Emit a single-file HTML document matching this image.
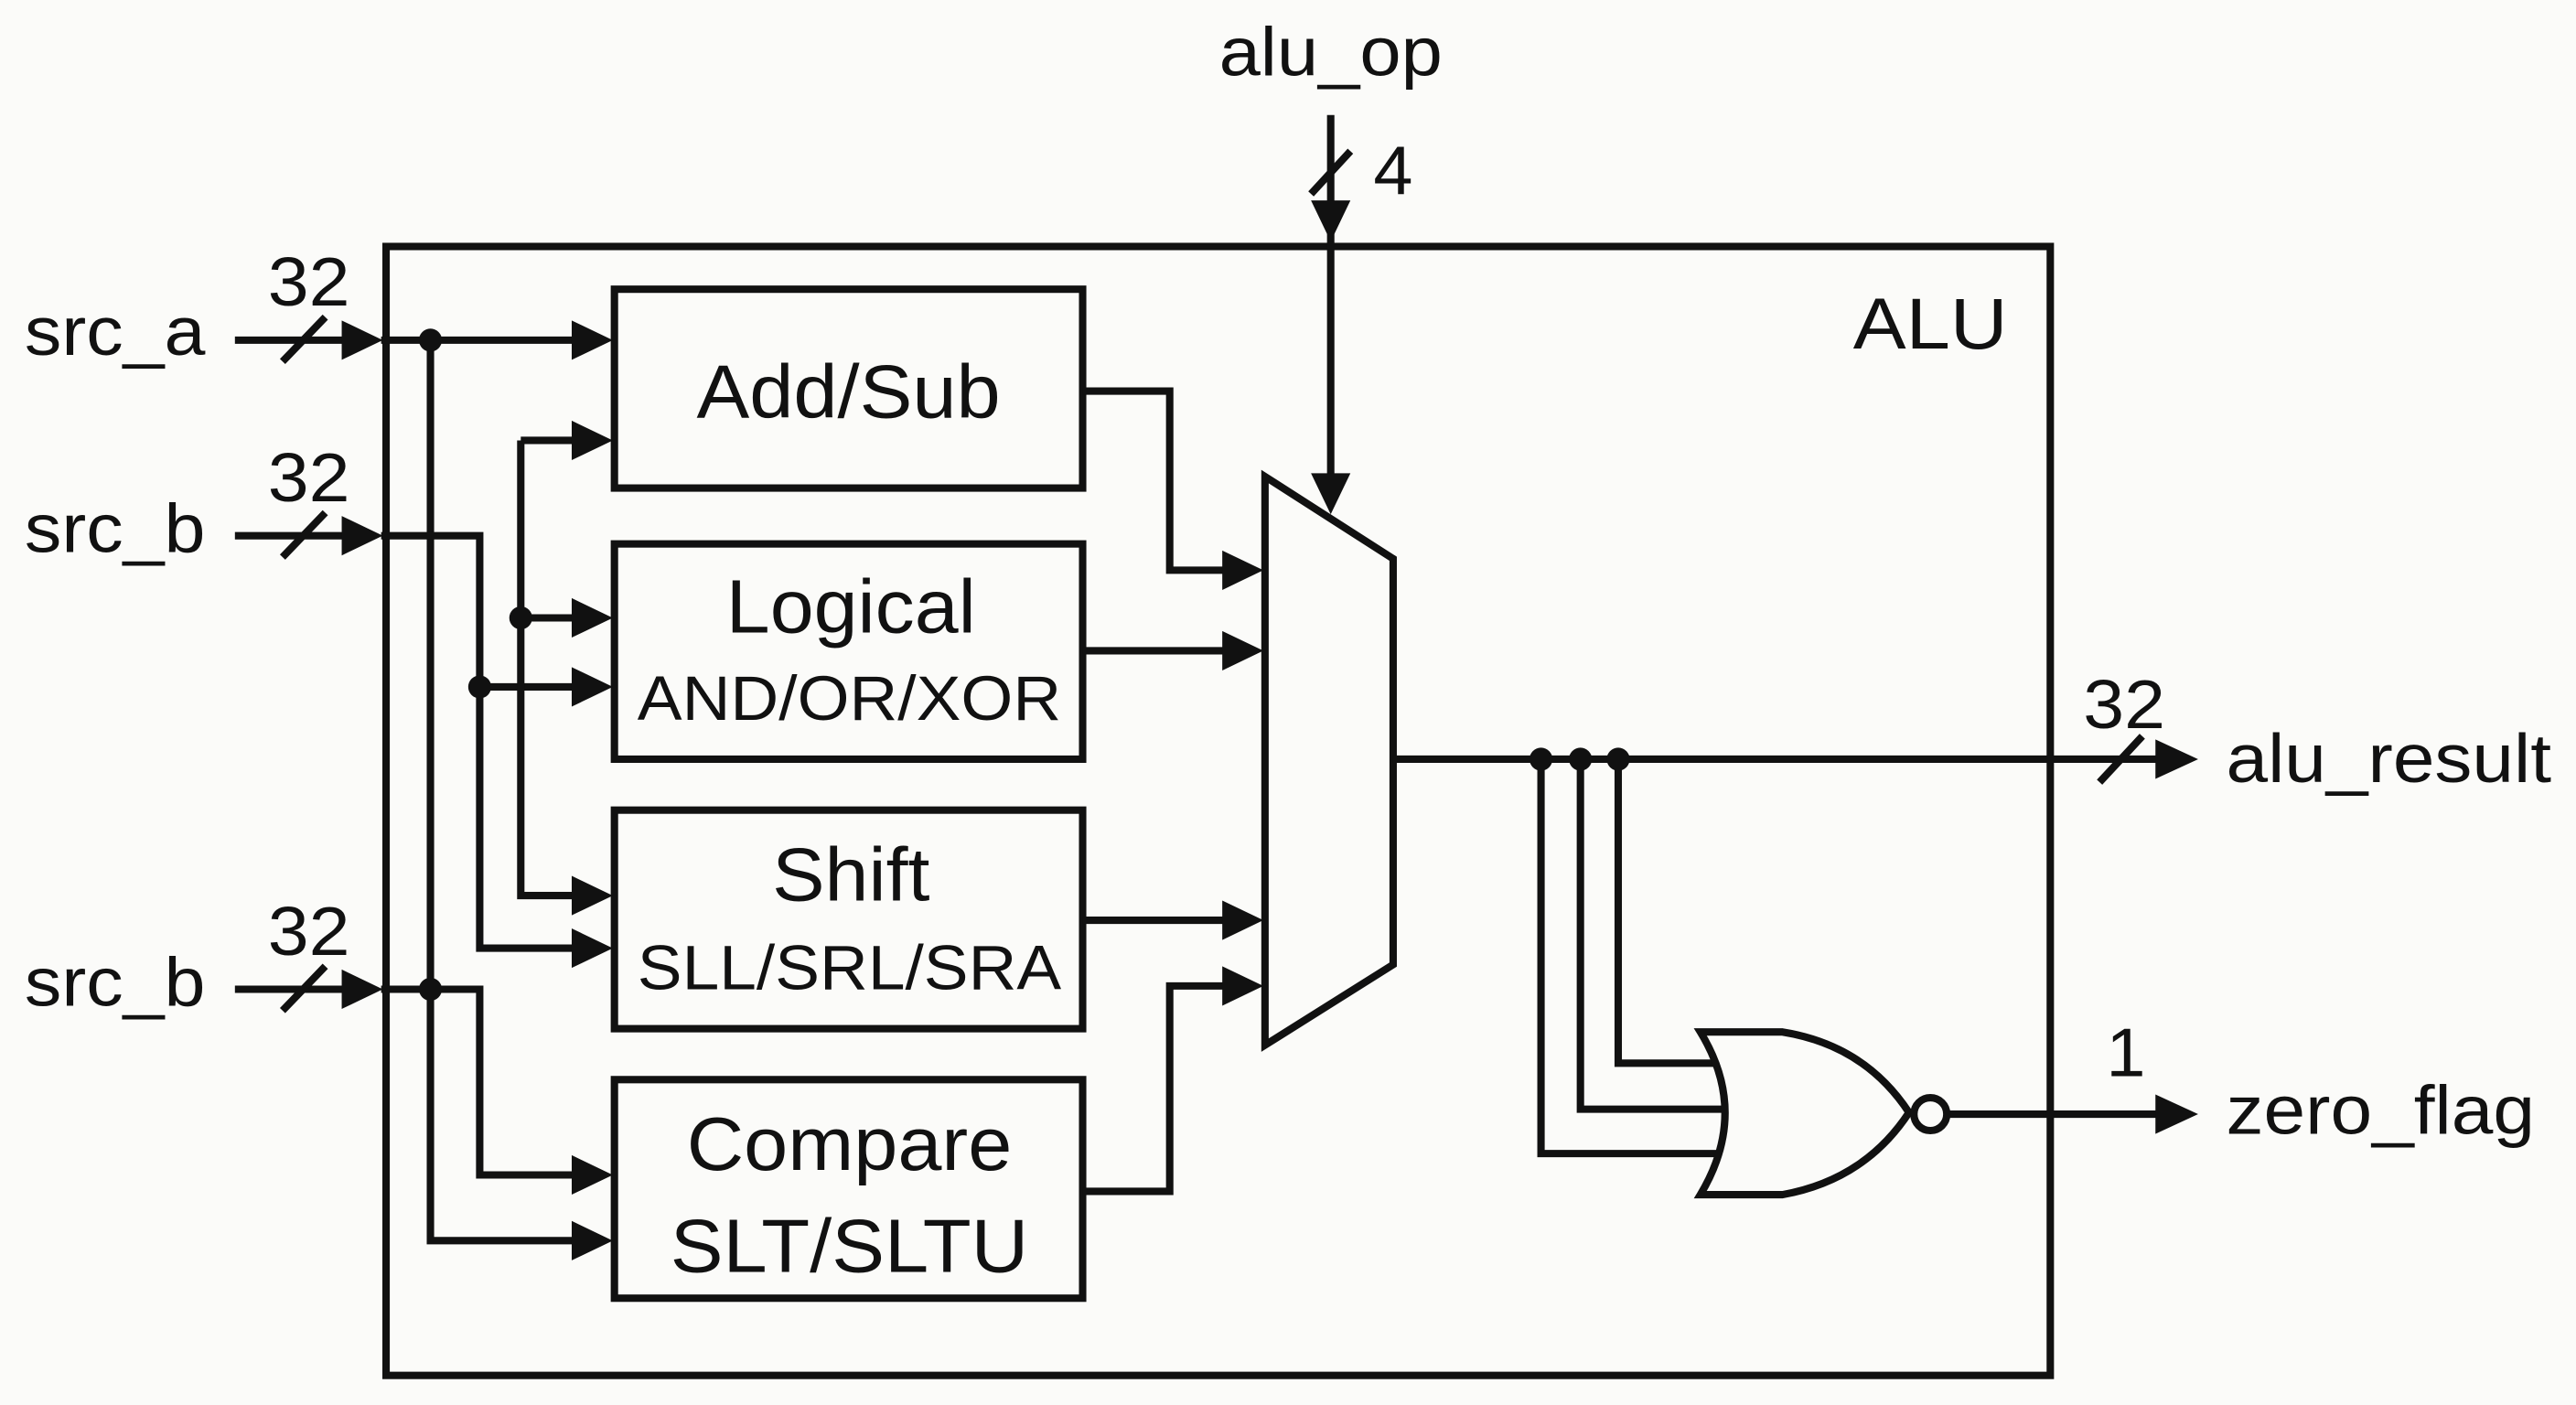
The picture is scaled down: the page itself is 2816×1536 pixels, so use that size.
<!DOCTYPE html>
<html><head><style>html,body{margin:0;padding:0;background:#fff}svg{display:block}</style></head>
<body>
<svg width="2816" height="1536" viewBox="0 0 1568 855" preserveAspectRatio="none" xmlns="http://www.w3.org/2000/svg">
<rect width="1568" height="855" fill="#fbfbf9"/>
<g fill="none" stroke="#111" stroke-width="4.5" stroke-linejoin="miter">
<rect x="235" y="150" width="1013" height="687"/>
<rect x="374" y="176" width="285" height="121"/>
<rect x="374" y="331" width="285" height="131"/>
<rect x="374" y="493" width="285" height="133"/>
<rect x="374" y="657" width="285" height="133"/>
<polygon points="770,290 848,340 848,587 770,636"/>
<path d="M143 207H215M143 326H215M143 602H215"/>
<path d="M232 207H355M262 207V755H355"/>
<path d="M232 326H292V577H355M292 418H355"/>
<path d="M317 268V545H355M317 268H355M317 376H355"/>
<path d="M232 602H292V715H355"/>
<path d="M172 220L198 193M172 339L198 312M172 615L198 588M1278 476L1304 448M798 118L822 92"/>
<path d="M659 238H712V347H750M659 396H750M659 560H750M659 725H712V600H750"/>
<path d="M810 70V290"/>
<path d="M848 462H1318"/>
<path d="M985 462V647H1045M962 462V675H1050M938 462V702H1045"/>
<path d="M1185 678H1318"/>
<path d="M1035 628Q1065 677 1035 727Q1060 727 1085 727Q1135 718 1162 677Q1135 636 1085 628Z"/>
<circle cx="1175" cy="678" r="10"/>
</g>
<g fill="#111">
<polygon points="208,195 233,207 208,219"/>
<polygon points="208,314 233,326 208,338"/>
<polygon points="208,590 233,602 208,614"/>
<polygon points="348,195 373,207 348,219"/>
<polygon points="348,256 373,268 348,280"/>
<polygon points="348,364 373,376 348,388"/>
<polygon points="348,406 373,418 348,430"/>
<polygon points="348,533 373,545 348,557"/>
<polygon points="348,565 373,577 348,589"/>
<polygon points="348,703 373,715 348,727"/>
<polygon points="348,743 373,755 348,767"/>
<polygon points="744,335 769,347 744,359"/>
<polygon points="744,384 769,396 744,408"/>
<polygon points="744,548 769,560 744,572"/>
<polygon points="744,588 769,600 744,612"/>
<polygon points="798,288 810,313 822,288"/>
<polygon points="798,122 810,147 822,122"/>
<polygon points="1312,450 1338,462 1312,474"/>
<polygon points="1312,666 1338,678 1312,690"/>
<circle cx="262" cy="207" r="7"/><circle cx="262" cy="602" r="7"/>
<circle cx="292" cy="418" r="7"/><circle cx="317" cy="376" r="7"/>
<circle cx="938" cy="462" r="7"/><circle cx="962" cy="462" r="7"/><circle cx="985" cy="462" r="7"/>
</g>
<g font-family="Liberation Sans, sans-serif" fill="#111" font-size="42">
<text x="15" y="216" textLength="110" lengthAdjust="spacingAndGlyphs">src_a</text>
<text x="15" y="336" textLength="110" lengthAdjust="spacingAndGlyphs">src_b</text>
<text x="15" y="612" textLength="110" lengthAdjust="spacingAndGlyphs">src_b</text>
<text x="163" y="186" textLength="50" lengthAdjust="spacingAndGlyphs">32</text>
<text x="163" y="305" textLength="50" lengthAdjust="spacingAndGlyphs">32</text>
<text x="163" y="581" textLength="50" lengthAdjust="spacingAndGlyphs">32</text>
<text x="742" y="46" textLength="136" lengthAdjust="spacingAndGlyphs">alu_op</text>
<text x="836" y="118" textLength="24" lengthAdjust="spacingAndGlyphs">4</text>
<text x="1128" y="212" font-size="44" textLength="94" lengthAdjust="spacingAndGlyphs">ALU</text>
<text x="1268" y="443" textLength="50" lengthAdjust="spacingAndGlyphs">32</text>
<text x="1282" y="655" textLength="24" lengthAdjust="spacingAndGlyphs">1</text>
<text x="1355" y="476" textLength="198" lengthAdjust="spacingAndGlyphs">alu_result</text>
<text x="1355" y="690" textLength="188" lengthAdjust="spacingAndGlyphs">zero_flag</text>
<text x="424" y="254" font-size="46" textLength="185" lengthAdjust="spacingAndGlyphs">Add/Sub</text>
<text x="442" y="385" font-size="46" textLength="152" lengthAdjust="spacingAndGlyphs">Logical</text>
<text x="388" y="438" font-size="38" textLength="258" lengthAdjust="spacingAndGlyphs">AND/OR/XOR</text>
<text x="470" y="548" font-size="46" textLength="96" lengthAdjust="spacingAndGlyphs">Shift</text>
<text x="388" y="602" font-size="38" textLength="258" lengthAdjust="spacingAndGlyphs">SLL/SRL/SRA</text>
<text x="418" y="712" font-size="46" textLength="198" lengthAdjust="spacingAndGlyphs">Compare</text>
<text x="408" y="774" font-size="46" textLength="218" lengthAdjust="spacingAndGlyphs">SLT/SLTU</text>
</g>
</svg>
</body></html>
